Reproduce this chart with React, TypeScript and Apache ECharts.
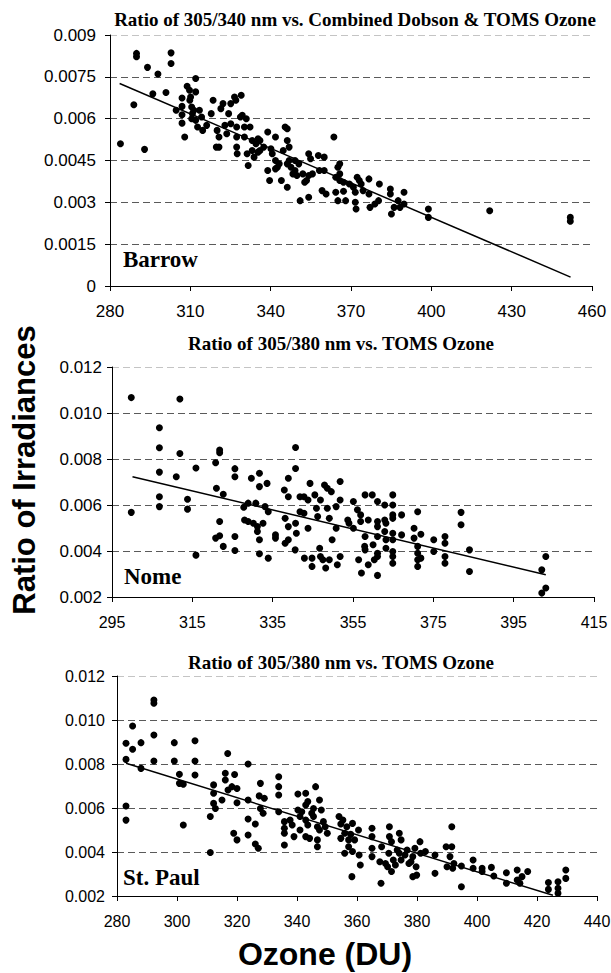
import React, { useEffect, useRef } from "react";
import * as echarts from "echarts";

// ---------- DATA ----------
const titles = [
  "Ratio of 305/340 nm vs. Combined Dobson & TOMS Ozone",
  "Ratio of 305/380 nm vs. TOMS Ozone",
  "Ratio of 305/380 nm vs. TOMS Ozone",
];
const stations = ["Barrow", "Nome", "St. Paul"];

const xTicksBarrow = [280, 310, 340, 370, 400, 430, 460];
const xTicksNome = [295, 315, 335, 355, 375, 395, 415];
const xTicksStPaul = [280, 300, 320, 340, 360, 380, 400, 420, 440];

const barrowPoints: [number, number][] = [
  [283.9, 0.0051], [288.9, 0.0065], [289.9, 0.00834], [289.9, 0.00822], [292.9, 0.0049], [294.0, 0.00784], [296.0, 0.00689], [297.9, 0.0076], [300.9, 0.00694], [302.8, 0.00836], [302.8, 0.00798], [304.7, 0.0063],
  [306.9, 0.00674], [306.9, 0.00644], [306.9, 0.00614], [306.9, 0.00584], [307.9, 0.00534], [308.8, 0.00716], [309.7, 0.00702], [310.1, 0.00678], [309.8, 0.00666], [310.5, 0.00642], [310.8, 0.00618], [310.5, 0.006],
  [312.0, 0.00744], [312.0, 0.00696], [311.3, 0.0063], [312.0, 0.00594], [312.7, 0.0057], [313.4, 0.0063], [314.2, 0.00606], [314.6, 0.00558], [316.1, 0.00576], [317.8, 0.00618], [318.5, 0.00666],
  [320.0, 0.00558], [319.7, 0.00498], [320.7, 0.00498], [320.7, 0.00534], [321.4, 0.00636], [322.2, 0.00654], [322.9, 0.00576], [323.6, 0.00546], [325.1, 0.00654], [324.3, 0.00618], [325.1, 0.00582],
  [326.5, 0.00678], [327.0, 0.00666], [327.3, 0.0057], [327.3, 0.00534], [327.3, 0.00498], [327.5, 0.00474], [329.0, 0.00684], [328.7, 0.00606], [329.4, 0.00612], [330.2, 0.0057], [330.2, 0.00534], [330.9, 0.006],
  [331.2, 0.00474], [331.6, 0.00432], [332.3, 0.0057], [333.1, 0.00522], [333.1, 0.00486], [333.8, 0.00462], [334.5, 0.0051], [335.3, 0.00528], [335.3, 0.0048], [336.0, 0.00522], [336.0, 0.00486], [337.4, 0.00498],
  [338.9, 0.00552], [338.9, 0.00414], [339.6, 0.00378], [340.1, 0.00492], [340.6, 0.00474], [341.8, 0.00534], [341.8, 0.0045], [341.8, 0.0042], [342.5, 0.00426], [343.2, 0.00438], [344.0, 0.00378], [344.7, 0.00486],
  [345.4, 0.0057], [346.2, 0.00564], [346.2, 0.00522], [346.9, 0.00498], [346.9, 0.0045], [346.2, 0.00438], [347.6, 0.00426], [346.2, 0.00354], [348.3, 0.00402], [349.1, 0.00414], [349.1, 0.0045], [349.8, 0.00396],
  [350.5, 0.00438], [351.0, 0.00306], [352.0, 0.00402], [352.7, 0.00372], [353.4, 0.00378], [354.2, 0.00396], [354.2, 0.00318], [354.2, 0.00474], [354.9, 0.00456], [355.6, 0.00402], [357.8, 0.00468], [358.2, 0.00414],
  [359.2, 0.00342], [360.0, 0.00462], [360.0, 0.00414], [360.7, 0.0033], [363.6, 0.00534], [364.3, 0.0039], [364.3, 0.00336], [365.1, 0.00426], [365.8, 0.00438], [365.1, 0.00306], [365.8, 0.00402], [365.8, 0.00378],
  [367.2, 0.00372], [367.2, 0.0034], [368.0, 0.00306], [369.4, 0.00366], [370.9, 0.00354], [371.6, 0.00336], [371.6, 0.003], [371.9, 0.00276], [372.3, 0.0039], [373.1, 0.00378], [373.8, 0.00366], [374.5, 0.00342],
  [376.7, 0.00384], [376.7, 0.0033], [377.1, 0.00282], [378.9, 0.00294], [380.3, 0.00306], [380.6, 0.00366], [384.7, 0.00348], [384.7, 0.0033], [385.1, 0.00258], [386.1, 0.00282], [387.6, 0.00306], [388.3, 0.00282],
  [389.8, 0.00336], [389.8, 0.00294], [398.9, 0.00276], [398.9, 0.00246], [421.8, 0.0027], [451.9, 0.00246], [451.9, 0.00232],
];
const barrowTrend: [number, number][] = [[283.6, 0.00726], [452, 0.00032]];

const nomePoints: [number, number][] = [
  [299.8, 0.01067], [299.8, 0.00568], [306.8, 0.00936], [306.8, 0.00849], [306.8, 0.00743], [306.8, 0.00636], [306.8, 0.00593], [311.0, 0.00723], [311.9, 0.01061], [311.9, 0.00824], [313.8, 0.00625], [313.8, 0.00582], [315.9, 0.00761], [315.9, 0.00382],
  [320.8, 0.00784], [321.0, 0.00673], [321.8, 0.00839], [321.8, 0.00827], [321.8, 0.00528], [320.8, 0.00456], [321.8, 0.00466], [322.7, 0.00647], [322.7, 0.0042], [325.6, 0.00758], [325.6, 0.00723], [325.6, 0.00463], [325.6, 0.00402],
  [327.8, 0.0059], [328.0, 0.00535], [328.9, 0.00528], [328.9, 0.00608], [329.7, 0.00716], [330.2, 0.00521], [330.8, 0.00608], [331.2, 0.00506], [331.2, 0.00485], [331.7, 0.00449], [331.7, 0.00738], [331.7, 0.0068], [331.7, 0.00388], [332.6, 0.00521], [333.1, 0.00593], [333.6, 0.00694], [333.9, 0.00571], [333.9, 0.00369],
  [335.7, 0.0047], [335.7, 0.00456], [337.9, 0.00665], [338.1, 0.00542], [338.1, 0.00434], [338.9, 0.00716], [338.9, 0.00636], [338.9, 0.00506], [338.9, 0.00449], [340.6, 0.00405], [340.7, 0.0085], [340.7, 0.00759], [340.7, 0.00521], [340.9, 0.00477],
  [341.8, 0.00636], [342.8, 0.00636], [341.8, 0.00571], [342.8, 0.00564], [342.9, 0.00369], [343.8, 0.00622], [344.3, 0.00694], [343.8, 0.00499], [344.8, 0.00369], [344.8, 0.00333], [345.5, 0.00644], [345.9, 0.00586], [346.2, 0.0055], [346.7, 0.00412], [346.9, 0.00376], [346.9, 0.00622],
  [347.9, 0.00687], [348.6, 0.00673], [347.5, 0.00362], [348.2, 0.00326], [348.6, 0.00586], [349.1, 0.00542], [349.1, 0.00362], [349.6, 0.00658], [349.8, 0.00449], [350.8, 0.00593], [350.8, 0.00499], [351.1, 0.0034], [351.8, 0.00702], [351.8, 0.00622], [351.8, 0.00376],
  [353.7, 0.00535], [354.0, 0.00521], [355.1, 0.00615], [355.1, 0.00499], [356.1, 0.00579], [356.4, 0.00362], [356.9, 0.00557], [356.9, 0.00528], [357.1, 0.00304], [357.9, 0.0042], [358.0, 0.00405], [358.0, 0.00644], [358.0, 0.00463], [358.8, 0.00535], [358.8, 0.0034],
  [359.8, 0.00644], [360.0, 0.00427], [360.3, 0.00362], [361.1, 0.00376], [361.1, 0.0039], [361.1, 0.00615], [361.1, 0.00528], [361.1, 0.00506], [361.1, 0.00463], [361.1, 0.00294], [362.9, 0.006], [362.9, 0.00535], [363.2, 0.00521], [362.9, 0.00485], [363.2, 0.00449], [363.2, 0.00412],
  [364.9, 0.00644], [364.9, 0.006], [364.9, 0.00557], [364.9, 0.00542], [364.9, 0.00477], [364.9, 0.00449], [364.9, 0.00398], [364.9, 0.00376], [364.9, 0.00347], [367.1, 0.00557], [367.1, 0.0047],
  [370.2, 0.00499], [370.2, 0.00456], [371.1, 0.00571], [371.1, 0.0042], [371.1, 0.0039], [371.1, 0.00362], [371.1, 0.00333], [371.9, 0.00473], [371.9, 0.00369], [375.1, 0.00449], [375.1, 0.00398], [377.9, 0.00463], [377.9, 0.00434], [377.9, 0.00376], [377.9, 0.00347],
  [381.9, 0.00568], [381.9, 0.00514], [384.0, 0.00405], [384.0, 0.00311], [402.0, 0.00318], [403.0, 0.00376], [402.0, 0.00217], [403.0, 0.00239],
];
const nomeTrend: [number, number][] = [[300.1, 0.00723], [403, 0.00297]];

const stPaulPoints: [number, number][] = [
  [283.0, 0.00894], [283.0, 0.00821], [283.0, 0.00609], [283.0, 0.00545], [285.2, 0.00973], [285.2, 0.00867], [288.0, 0.00897], [288.0, 0.0078], [292.3, 0.01091], [292.3, 0.01076], [292.3, 0.00932], [292.3, 0.00814],
  [299.1, 0.00897], [299.1, 0.00814], [300.8, 0.00753], [300.8, 0.00712], [302.1, 0.00708], [302.1, 0.00523], [306.0, 0.00906], [306.0, 0.00814], [306.0, 0.0075],
  [311.1, 0.00561], [311.1, 0.00398], [312.2, 0.00705], [312.2, 0.00667], [312.2, 0.00621], [312.8, 0.00598], [315.0, 0.00636], [316.1, 0.00758], [316.1, 0.00727], [316.9, 0.00848], [317.0, 0.00682], [318.3, 0.00697], [319.2, 0.00752], [318.9, 0.00485], [320.0, 0.00455], [320.0, 0.00689], [320.0, 0.00624],
  [323.7, 0.008], [323.7, 0.00636], [323.7, 0.0055], [323.7, 0.00477], [326.1, 0.00527], [326.1, 0.00436], [327.1, 0.00417], [327.4, 0.00655], [327.8, 0.00712], [327.8, 0.00598], [328.7, 0.00576], [329.1, 0.00644],
  [333.9, 0.00742], [333.9, 0.00697], [333.9, 0.00659], [333.9, 0.00583], [335.8, 0.00538], [335.8, 0.00508], [335.8, 0.00485], [335.8, 0.00432], [337.7, 0.00545], [338.4, 0.00523], [339.0, 0.0047],
  [340.3, 0.00664], [340.3, 0.00591], [341.0, 0.00561], [341.0, 0.005], [341.6, 0.00583], [342.9, 0.00667], [342.9, 0.00614], [343.6, 0.00629], [342.9, 0.00545], [343.6, 0.00523], [342.9, 0.0047], [344.2, 0.00462], [344.9, 0.00576], [345.5, 0.00561], [345.5, 0.00598],
  [346.2, 0.00697], [346.8, 0.00515], [347.5, 0.005], [346.8, 0.00455], [346.8, 0.00424], [347.5, 0.00636], [348.1, 0.00591], [348.8, 0.00538], [349.4, 0.00515], [350.1, 0.00485],
  [354.0, 0.00561], [354.6, 0.00527], [354.6, 0.00462], [355.3, 0.00545], [355.9, 0.00485], [355.9, 0.00394], [356.6, 0.00515], [357.2, 0.00455], [357.2, 0.00424], [357.9, 0.0048], [358.5, 0.0053], [358.3, 0.00288], [358.5, 0.00402], [359.2, 0.00455], [360.5, 0.005], [360.7, 0.00386], [361.1, 0.00341],
  [365.0, 0.00508], [365.0, 0.0047], [365.0, 0.00417], [365.0, 0.00379], [367.6, 0.00356], [368.0, 0.00258], [368.2, 0.00424], [369.5, 0.00348], [370.2, 0.00333], [370.6, 0.00394], [370.8, 0.00515], [370.8, 0.0047], [371.5, 0.00447], [371.5, 0.00311], [372.1, 0.00364], [372.8, 0.00341], [373.4, 0.00409],
  [374.1, 0.00485], [374.1, 0.00394], [374.7, 0.00364], [374.7, 0.00455], [376.0, 0.00386], [376.7, 0.00409], [377.3, 0.00348], [378.0, 0.00356], [378.6, 0.00379], [378.6, 0.00288], [379.3, 0.00417], [379.7, 0.00333], [379.9, 0.00295], [381.0, 0.00447], [381.2, 0.00394], [382.8, 0.00402],
  [386.0, 0.00386], [386.0, 0.00303], [389.7, 0.00424], [390.0, 0.00333], [391.0, 0.00379], [391.6, 0.00515], [391.6, 0.00424], [391.9, 0.00326], [392.3, 0.00348], [394.8, 0.00242], [394.8, 0.00336], [398.7, 0.00364], [398.7, 0.00326], [401.7, 0.00326], [401.7, 0.00311], [404.8, 0.0033], [405.6, 0.00291],
  [409.8, 0.00306], [409.8, 0.00258], [413.4, 0.00318], [413.4, 0.00273], [414.3, 0.00258], [415.0, 0.00288], [416.9, 0.00311], [423.8, 0.00261], [423.8, 0.0023], [427.0, 0.00265], [427.0, 0.00235], [427.0, 0.00212], [429.6, 0.00318], [429.6, 0.0028],
];
const stPaulTrend: [number, number][] = [[283, 0.00803], [425.3, 0.00203]];

// ---------- STYLE ----------
const SANS = "'Liberation Sans', Arial, sans-serif";
const SERIF = "'Liberation Serif', 'Times New Roman', serif";
const GRID_DARK = "#5a5a5a";
const GRID_LIGHT = "#c4c4c4";

function makeXAxis(gridIndex: number, min: number, max: number, ticks: number[], fontSize: number, margin: number) {
  return {
    type: "value",
    gridIndex,
    min,
    max,
    axisLine: { show: true, onZero: false, lineStyle: { color: "#000", width: 1 } },
    axisTick: { show: true, inside: false, length: 5, customValues: ticks, lineStyle: { color: "#000", width: 1 } },
    axisLabel: { show: true, customValues: ticks, margin, color: "#000", fontFamily: SANS, fontSize },
    splitLine: { show: false },
  };
}

function makeYAxis(gridIndex: number, min: number, max: number, interval: number, digits: number, fontSize: number, margin: number) {
  const n = Math.round((max - min) / interval) + 1;
  const colors: string[] = [];
  for (let i = 0; i < n; i++) colors.push(i === n - 1 ? GRID_LIGHT : GRID_DARK);
  return {
    type: "value",
    gridIndex,
    min,
    max,
    interval,
    axisLine: { show: true, lineStyle: { color: "#000", width: 1 } },
    axisTick: { show: true, inside: false, length: 5, lineStyle: { color: "#000", width: 1 } },
    axisLabel: {
      show: true,
      margin,
      color: "#000",
      fontFamily: SANS,
      fontSize,
      formatter: (v: number) => {
        if (digits < 0) {
          const r = +v.toFixed(5);
          return r === 0 ? "0" : String(r);
        }
        return v.toFixed(digits);
      },
    },
    splitLine: { show: true, lineStyle: { type: [7, 4], color: colors, width: 1 } },
  };
}

function scatter(idx: number, data: [number, number][]) {
  return {
    type: "scatter",
    xAxisIndex: idx,
    yAxisIndex: idx,
    data,
    symbol: "circle",
    symbolSize: 7,
    itemStyle: { color: "#000", opacity: 1 },
    silent: true,
  };
}

function trend(idx: number, data: [number, number][]) {
  return {
    type: "line",
    xAxisIndex: idx,
    yAxisIndex: idx,
    data,
    showSymbol: false,
    symbol: "none",
    lineStyle: { color: "#000", width: 1.5 },
    z: 3,
    silent: true,
  };
}

function text(x: number, y: number, t: string, font: string, extra: any = {}) {
  return {
    type: "text",
    x,
    y,
    silent: true,
    ...extra,
    style: { text: t, font, fill: "#000", textAlign: "center", textVerticalAlign: "middle", ...(extra.style || {}) },
  };
}

export default function App() {
  const ref = useRef<HTMLDivElement>(null);
  useEffect(() => {
    document.body.style.margin = "0";
    if (!ref.current) return;
    const chart = echarts.init(ref.current, null, { renderer: "svg" });
    const option: any = {
      animation: false,
      backgroundColor: "#fff",
      grid: [
        { left: 110, top: 35, width: 482, height: 251, outerBoundsMode: "none" },
        { left: 112, top: 367, width: 482, height: 230, outerBoundsMode: "none" },
        { left: 117, top: 676, width: 480, height: 220, outerBoundsMode: "none" },
      ],
      xAxis: [
        makeXAxis(0, 280, 460, xTicksBarrow, 17, 17),
        makeXAxis(1, 295, 415, xTicksNome, 16, 17),
        makeXAxis(2, 280, 440, xTicksStPaul, 16, 17),
      ],
      yAxis: [
        makeYAxis(0, 0, 0.009, 0.0015, -1, 17, 14),
        makeYAxis(1, 0.002, 0.012, 0.002, 3, 17, 10),
        makeYAxis(2, 0.002, 0.012, 0.002, 3, 16, 12),
      ],
      series: [
        scatter(0, barrowPoints),
        trend(0, barrowTrend),
        scatter(1, nomePoints),
        trend(1, nomeTrend),
        scatter(2, stPaulPoints),
        trend(2, stPaulTrend),
      ],
      graphic: [
        text(355, 19, titles[0], `bold 19px ${SERIF}`),
        text(341, 343, titles[1], `bold 19px ${SERIF}`),
        text(341, 662, titles[2], `bold 19px ${SERIF}`),
        text(123, 259, stations[0], `bold 23px ${SERIF}`, { style: { textAlign: "left" } }),
        text(124, 576, stations[1], `bold 23px ${SERIF}`, { style: { textAlign: "left" } }),
        text(123, 877, stations[2], `bold 23px ${SERIF}`, { style: { textAlign: "left" } }),
        text(325, 954, "Ozone (DU)", `bold 32px ${SANS}`),
        text(24, 470, "Ratio of Irradiances", `bold 31px ${SANS}`, { rotation: Math.PI / 2 }),
      ],
    };
    chart.setOption(option);
    return () => chart.dispose();
  }, []);
  return <div ref={ref} style={{ width: 611, height: 973 }} />;
}
